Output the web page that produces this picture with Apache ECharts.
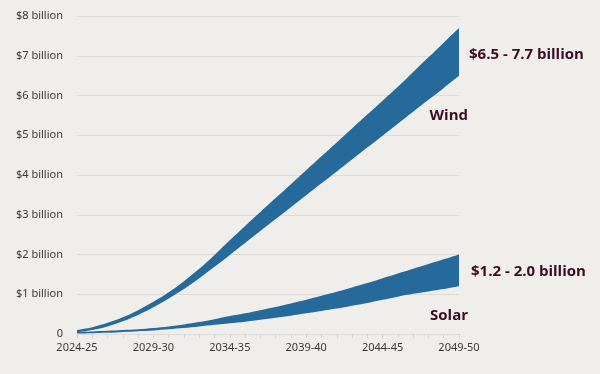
<!DOCTYPE html>
<html><head><meta charset="utf-8">
<script src="https://cdn.jsdelivr.net/npm/echarts@6/dist/echarts.min.js"></script>
<style>html,body{margin:0;padding:0;background:#efeeea}#c{width:600px;height:374px}</style>
</head><body><div id="c"></div>
<script>
const years = [];
for (let y = 2024; y <= 2049; y++) years.push(y + '-' + String((y + 1) % 100).padStart(2, '0'));
const windLow  = [0.04,0.10,0.19,0.32,0.48,0.67,0.89,1.13,1.40,1.69,1.99,2.29,2.59,2.89,3.19,3.49,3.79,4.09,4.39,4.69,4.99,5.29,5.59,5.89,6.19,6.50];
const windHigh = [0.10,0.17,0.28,0.42,0.60,0.81,1.05,1.33,1.64,1.99,2.36,2.72,3.07,3.42,3.77,4.12,4.47,4.82,5.17,5.52,5.87,6.22,6.59,6.96,7.33,7.70];
const solarLow  = [0.01,0.02,0.03,0.05,0.07,0.09,0.12,0.15,0.19,0.23,0.27,0.31,0.36,0.41,0.46,0.52,0.58,0.64,0.71,0.78,0.86,0.94,1.01,1.07,1.13,1.20];
const solarHigh = [0.05,0.065,0.08,0.10,0.12,0.15,0.19,0.24,0.30,0.37,0.45,0.52,0.60,0.68,0.77,0.86,0.96,1.06,1.17,1.28,1.40,1.52,1.64,1.76,1.88,2.00];
const yTicks = ['0','$1 billion','$2 billion','$3 billion','$4 billion','$5 billion','$6 billion','$7 billion','$8 billion'];
const xLabelYears = ['2024-25','2029-30','2034-35','2039-40','2044-45','2049-50'];

const bandColor = '#26699b';
const txtColor = '#3b0d22';
const diff = (h, l) => h.map((v, i) => +(v - l[i]).toFixed(3));

const chart = echarts.init(document.getElementById('c'));
const baseSeries = (name, stack, data) => ({
  name, type: 'line', stack, data, symbol: 'none', smooth: 0.3,
  lineStyle: { width: 0, opacity: 0 }, areaStyle: { opacity: 0 }, silent: true
});
const bandSeries = (name, stack, data) => ({
  name, type: 'line', stack, data, symbol: 'none', smooth: 0.3,
  lineStyle: { width: 0, opacity: 0 }, areaStyle: { color: bandColor, opacity: 1 }, silent: true
});
chart.setOption({
  backgroundColor: '#efeeea',
  animation: false,
  grid: { left: 77, right: 141, top: 16, bottom: 40 },
  xAxis: {
    type: 'category', data: years, boundaryGap: false,
    axisLine: { lineStyle: { color: '#dcdbd7', width: 1 } },
    axisTick: { show: true, interval: 0, length: 4, lineStyle: { color: '#d5d4d0' } },
    axisLabel: {
      interval: 0, color: '#3a3a3a', fontSize: 11, fontFamily: 'Noto Sans', margin: 8,
      formatter: v => xLabelYears.includes(v) ? v : ''
    }
  },
  yAxis: {
    type: 'value', min: 0, max: 8, interval: 1,
    axisLine: { show: false }, axisTick: { show: false },
    splitLine: { lineStyle: { color: '#dcdbd7', width: 1 } },
    axisLabel: { color: '#3a3a3a', fontSize: 11, fontFamily: 'Noto Sans', margin: 14,
      formatter: v => yTicks[Math.round(v)] }
  },
  series: [
    baseSeries('windBase', 'wind', windLow),
    bandSeries('Wind', 'wind', diff(windHigh, windLow)),
    baseSeries('solarBase', 'solar', solarLow),
    bandSeries('Solar', 'solar', diff(solarHigh, solarLow))
  ]
});

function place() {
  const last = years.length - 1;
  const pW = chart.convertToPixel({ gridIndex: 0 }, [last, (windLow[last] + windHigh[last]) / 2]);
  const pS = chart.convertToPixel({ gridIndex: 0 }, [last, (solarLow[last] + solarHigh[last]) / 2]);
  const pWl = chart.convertToPixel({ gridIndex: 0 }, [last, windLow[last]]);
  const pSl = chart.convertToPixel({ gridIndex: 0 }, [last, solarLow[last]]);
  const font = { fill: txtColor, fontSize: 15, fontWeight: 'bold', fontFamily: 'Open Sans', textVerticalAlign: 'middle' };
  chart.setOption({ graphic: [
    { type: 'text', x: pW[0] + 10, y: pW[1] + 3, style: Object.assign({ text: '$6.5 - 7.7 billion', textAlign: 'left' }, font) },
    { type: 'text', x: pWl[0] + 9, y: pWl[1] + 40, style: Object.assign({ text: 'Wind', textAlign: 'right' }, font) },
    { type: 'text', x: pS[0] + 12, y: pS[1] + 1, style: Object.assign({ text: '$1.2 - 2.0 billion', textAlign: 'left' }, font) },
    { type: 'text', x: pSl[0] + 9, y: pSl[1] + 29, style: Object.assign({ text: 'Solar', textAlign: 'right' }, font) }
  ]});
}
place();
</script>
</body></html>
